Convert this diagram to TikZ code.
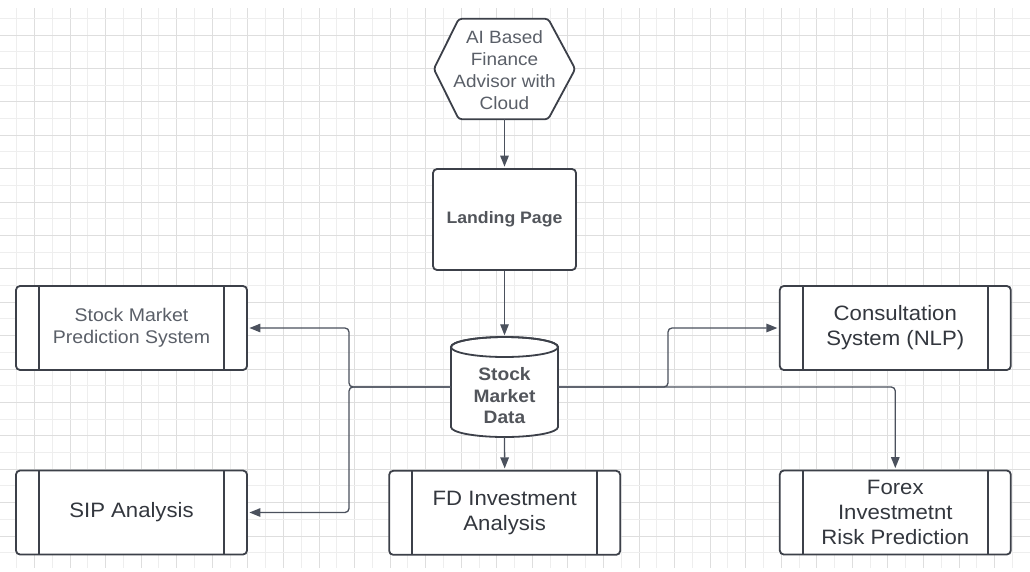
\documentclass[tikz,border=0pt]{standalone}
\usepackage{fontspec}
\setmainfont{Liberation Sans}[FakeStretch=1.065]
\usetikzlibrary{arrows.meta,calc}
\definecolor{gridA}{HTML}{EEEEEE}
\definecolor{gridB}{HTML}{DEDEDE}
\definecolor{edgec}{HTML}{3C4049}
\definecolor{connc}{HTML}{4B515D}
\definecolor{txtc}{HTML}{33373E}
\definecolor{txtl}{HTML}{5A5F68}
\tikzset{
  procbox/.style={draw=edgec, line width=1.8pt, rounded corners=4pt, fill=white,
    minimum width=231pt, minimum height=84pt, inner sep=0pt, align=center,
    text=txtc, font=\fontsize{20.8}{25}\selectfont,
    path picture={\draw[edgec, line width=1.8pt]
      ([xshift=23pt]path picture bounding box.north west) -- ([xshift=23pt]path picture bounding box.south west)
      ([xshift=-23pt]path picture bounding box.north east) -- ([xshift=-23pt]path picture bounding box.south east);}},
  arrowline/.style={draw=connc, line width=1.3pt, rounded corners=4pt,
    -{Triangle[length=11pt,width=8.5pt]}, shorten >=1.5pt},
  shapeline/.style={draw=edgec, line width=1.8pt, fill=white},
}
\begin{document}
\begin{tikzpicture}[x=1pt,y=-1pt]
\useasboundingbox (0,0) rectangle (1030,571);
\fill[white] (0,0) rectangle (1030,571);
% grid
\foreach \k in {0,...,56}{
  \ifodd\k \def\gc{gridB}\else\def\gc{gridA}\fi
  \draw[\gc, line width=0.9pt] ({16.7+\k*17.78},8) -- ({16.7+\k*17.78},568);
}
\foreach \k in {0,...,32}{
  \ifodd\k \def\gc{gridB}\else\def\gc{gridA}\fi
  \draw[\gc, line width=0.9pt] (0,{18.3+\k*16.7}) -- (1030,{18.3+\k*16.7});
}
% hexagon
\node[minimum width=141pt, minimum height=100pt, inner sep=0pt, align=center,
  text=txtl, font=\fontsize{17.8}{22.2}\selectfont] (hex) at (504.5,69) {};
\filldraw[shapeline, rounded corners=3pt] (hex.west) -- ($(hex.north west)+(25,0)$) -- ($(hex.north east)+(-27,0)$)
  -- (hex.east) -- ($(hex.south east)+(-27,0)$) -- ($(hex.south west)+(25,0)$) -- cycle;
\node[align=center, text=txtl, font=\fontsize{17.8}{22.2}\selectfont] (hextxt) at (504.5,70)
  {AI Based\\Finance\\Advisor with\\Cloud};
% landing
\node[draw=edgec, line width=1.8pt, rounded corners=4pt, fill=white, minimum width=143pt,
  minimum height=101pt, text=txtc!85!white, font=\fontsize{16.6}{20}\selectfont\bfseries] (land) at (504.5,219.5) {Landing Page};
% cylinder
\node[minimum width=107pt, minimum height=100pt, inner sep=0pt] (db) at (504.5,387) {};
\filldraw[shapeline] (451,347) -- (451,427) arc[start angle=180, end angle=360, x radius=53.5pt, y radius=10pt]
  -- (558,347) arc[start angle=0, end angle=180, x radius=53.5pt, y radius=10pt] -- cycle;
\draw[edgec, line width=1.8pt] (504.5,347) ellipse[x radius=53.5pt, y radius=10pt];
\node[align=center, text=txtc!85!white, font=\fontsize{18}{21.5}\selectfont\bfseries] (dbtxt) at (504.5,396) {Stock\\Market\\Data};
% process boxes
\node[procbox, text=txtl, font=\fontsize{18.3}{22.3}\selectfont] (smp) at (131.5,328) {Stock Market\\Prediction System};
\node[procbox] (sip) at (131.5,512.5) {SIP Analysis};
\node[procbox] (fd) at (504.7,512.8) {FD Investment\\Analysis};
\node[procbox] (cons) at (895.3,328) {Consultation\\System (NLP)};
\node[procbox] (forex) at (895.3,512.5) {Forex\\Investmetnt\\Risk Prediction};
% junctions
\coordinate (jl) at (349,387);
\coordinate (jr) at (668,387);
% connectors
\draw[arrowline] (hex.south) -- (land.north);
\draw[arrowline] (land.south) -- (db.north);
\draw[arrowline] (db.south) -- (fd.north);
\draw[arrowline] (db.west) -- (jl) |- (smp.east);
\draw[arrowline] (db.west) -- (jl) |- (sip.east);
\draw[arrowline] (db.east) -- (jr) |- (cons.west);
\draw[arrowline] (db.east) -| (forex.north);
\end{tikzpicture}
\end{document}
